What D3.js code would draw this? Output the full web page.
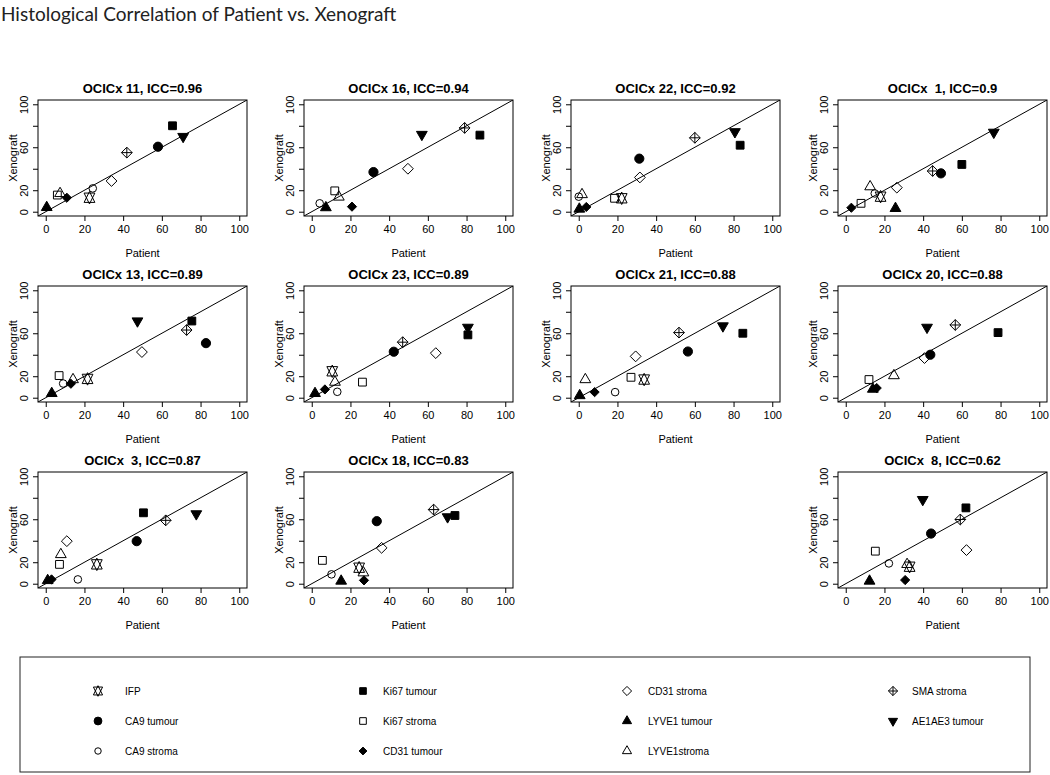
<!DOCTYPE html>
<html><head><meta charset="utf-8">
<script src="https://cdn.jsdelivr.net/npm/d3@7"></script>
<style>
body{margin:0;background:#fff;}
svg text{font-family:"Liberation Sans",Arial,sans-serif;}
</style></head>
<body><svg id="c" width="1050" height="775"></svg>
<script>
// ---- data ----
const panelNames = ["OCICx 11","OCICx 16","OCICx 22","OCICx  1","OCICx 13","OCICx 23","OCICx 21","OCICx 20","OCICx  3","OCICx 18","OCICx  8"];
const iccValues = ["0.96","0.94","0.92","0.9","0.89","0.89","0.88","0.88","0.87","0.83","0.62"];
const panelRow = [0,0,0,0,1,1,1,1,2,2,2];
const panelCol = [0,1,2,3,0,1,2,3,0,1,3];
const markerNames = ["IFP","CA9 tumour","CA9 stroma","Ki67 tumour","Ki67 stroma","CD31 tumour","CD31 stroma","LYVE1 tumour","LYVE1stroma","SMA stroma","AE1AE3 tumour"];
const markerShapes = ["sextile","circleFilled","circleOpen","squareFilled","squareOpen","diamondFilled","diamondOpen","triUpFilled","triUpOpen","diamondPlus","triDownFilled"];
// patient / xenograft values, one entry per panel (order of panelNames), null = not shown
const IFP_patient  = [22.6,null,22.2,18,21.6,10.6,33.8,null,26.4,24.5,33];
const IFP_xeno     = [13,null,12.5,14,17.5,24.6,16.9,null,18,14.9,15.8];
const CA9t_patient = [58,31.9,31.3,49.2,82.8,42.4,56.4,43.7,47,33.6,44.1];
const CA9t_xeno    = [60.5,36.9,49.4,35.7,50.8,42.8,43,40,39.6,58.2,46.7];
const CA9s_patient = [24.3,4.1,0,15,9,13.2,18.8,null,16.6,10.2,22.3];
const CA9s_xeno    = [21.7,7.8,14,17,13.2,5.5,5.2,null,4,8.7,18.9];
const Ki67t_patient= [65.5,86.9,83.4,60,75.5,80.7,84.8,78.7,50.5,74,62.1];
const Ki67t_xeno   = [80,71.3,61.9,44,71.4,58.5,60,60.6,66,63.5,70.6];
const Ki67s_patient= [6,11.9,18.5,7.9,6.9,26.2,27,12,7.1,5.5,15.3];
const Ki67s_xeno   = [15.5,19.4,12.5,7.8,20.6,14.5,19,16.9,18,21.7,30.3];
const CD31t_patient= [10.9,20.8,3.9,2.9,13,6.8,8.2,16,3,27,30.7];
const CD31t_xeno   = [13,4.7,4.4,3.7,13,7.7,5.2,9,4,3.1,3.4];
const CD31s_patient= [34,49.7,31.6,26.4,49.7,64.1,29.4,40.7,10.9,36.1,62.4];
const CD31s_xeno   = [28.6,40,31.9,22.4,42.5,41.5,38.5,36.9,39.6,33.4,31.3];
const LYVt_patient = [0.5,7.3,0.3,25.7,3.1,1.7,0.5,14,1,15.2,12.3];
const LYVt_xeno    = [4,3.8,2.5,3.1,4,4,2,8,3,2.5,2.5];
const LYVs_patient = [7.4,14,1.7,12.6,14.1,12,3.4,24.9,7.8,26.7,31.7];
const LYVs_xeno    = [17,13.7,16,23.3,16.9,14.5,16.9,20.6,27.2,10.2,18];
const SMA_patient  = [41.9,79,60,44.9,72.8,47,51.8,56.6,62,63,59.2];
const SMA_xeno     = [55,78,68.8,37.9,63,51.7,60.6,67.7,59,69,59.8];
const AE_patient   = [71,56.9,80.7,76.5,47.4,80.7,74.5,42,77.8,70.2,39.8];
const AE_xeno      = [70,71.9,74.4,73.9,71.4,65.5,66.8,65.5,65,62.2,78.3];
const xTicks = [0,20,40,60,80,100];
const yTicks = [0,20,40,60,80,100];
const yTickLabels = ["0","20","","60","","100"];
const mainTitle = "Histological Correlation of Patient vs. Xenograft";
const xLabel = "Patient", yLabel = "Xenograft";

const patientSeries = [IFP_patient,CA9t_patient,CA9s_patient,Ki67t_patient,Ki67s_patient,CD31t_patient,CD31s_patient,LYVt_patient,LYVs_patient,SMA_patient,AE_patient];
const xenoSeries = [IFP_xeno,CA9t_xeno,CA9s_xeno,Ki67t_xeno,Ki67s_xeno,CD31t_xeno,CD31s_xeno,LYVt_xeno,LYVs_xeno,SMA_xeno,AE_xeno];

// ---- symbol paths (R pch style) ----
function shapePath(type, k){
  const u = 4*k;
  const p = d3.path();
  const tri = (dir)=>{ // dir 1 = point up, -1 = point down
    const r = 1.555*u, yc = 0.778*u, xc = 1.347*u;
    p.moveTo(0, -dir*r); p.lineTo(xc, dir*yc); p.lineTo(-xc, dir*yc); p.closePath();
  };
  switch(type){
    case "circleFilled": p.arc(0,0,4.6*k,0,2*Math.PI); break;
    case "circleOpen": p.arc(0,0,3.8*k,0,2*Math.PI); break;
    case "squareFilled": case "squareOpen": { const h=3.9*k; p.rect(-h,-h,2*h,2*h); break; }
    case "diamondFilled": { const h=4.6*k; p.moveTo(0,-h);p.lineTo(h,0);p.lineTo(0,h);p.lineTo(-h,0);p.closePath(); break; }
    case "diamondOpen": case "diamondPlus": { const h=5.4*k; p.moveTo(0,-h);p.lineTo(h,0);p.lineTo(0,h);p.lineTo(-h,0);p.closePath();
      if(type==="diamondPlus"){ p.moveTo(0,-h);p.lineTo(0,h);p.moveTo(-h,0);p.lineTo(h,0);} break; }
    case "triUpFilled": case "triUpOpen": tri(1); break;
    case "triDownFilled": tri(-1); break;
    case "sextile": {
      const r=1.555*u, yc=0.5*(0.778*u+r), xc=1.347*u;
      p.moveTo(0,-r);p.lineTo(xc,yc);p.lineTo(-xc,yc);p.closePath();
      p.moveTo(0,r);p.lineTo(xc,-yc);p.lineTo(-xc,-yc);p.closePath(); break; }
  }
  return p.toString();
}
function isFilled(t){ return /Filled/.test(t); }

const svg = d3.select("#c");
svg.append("text").attr("x",1).attr("y",21).text(mainTitle)
  .style("font-family","Lato,'Open Sans',sans-serif").style("font-size","19px").attr("fill","#222");

const boxW = 209, boxH = 116;
const colLeft = [38,304,571,838];
const rowTop = [100,286,472];

panelNames.forEach((name,i)=>{
  const left = colLeft[panelCol[i]], top = rowTop[panelRow[i]];
  const x = d3.scaleLinear().domain([-4,104]).range([left,left+boxW]);
  const y = d3.scaleLinear().domain([-4,104]).range([top+boxH,top]);
  const g = svg.append("g");
  const clipId = "clip"+i;
  g.append("clipPath").attr("id",clipId).append("rect").attr("x",left).attr("y",top).attr("width",boxW).attr("height",boxH);
  // identity line
  g.append("line").attr("clip-path",`url(#${clipId})`)
    .attr("x1",x(-4)).attr("y1",y(-4)).attr("x2",x(104)).attr("y2",y(104))
    .attr("stroke","#000").attr("stroke-width",1);
  // points
  markerNames.forEach((m,j)=>{
    const px = patientSeries[j][i], py = xenoSeries[j][i];
    if(px==null||py==null) return;
    const t = markerShapes[j];
    g.append("path").attr("d",shapePath(t,1))
      .attr("transform",`translate(${x(px)},${y(py)})`)
      .attr("fill",isFilled(t)?"#000":"none").attr("stroke","#000").attr("stroke-width",1);
  });
  // box
  g.append("rect").attr("x",left).attr("y",top).attr("width",boxW).attr("height",boxH)
    .attr("fill","none").attr("stroke","#000").attr("stroke-width",1);
  // x axis
  const ax = g.append("g").attr("transform",`translate(0,${top+boxH})`)
    .call(d3.axisBottom(x).tickValues(xTicks).tickSize(5).tickSizeOuter(0).tickPadding(4));
  ax.select(".domain").remove();
  ax.selectAll("text").style("font-size","11px").style("font-family","'Liberation Sans',Arial,sans-serif").attr("fill","#000");
  // y axis
  const ay = g.append("g").attr("transform",`translate(${left},0)`)
    .call(d3.axisLeft(y).tickValues(yTicks).tickSize(5).tickSizeOuter(0).tickFormat((d,k)=>yTickLabels[k]));
  ay.select(".domain").remove();
  ay.selectAll("text").attr("x",null).attr("dy",null).attr("text-anchor","middle")
    .attr("transform","translate(-10,0) rotate(-90)").style("font-size","11px")
    .style("font-family","'Liberation Sans',Arial,sans-serif").attr("fill","#000");
  // labels
  g.append("text").attr("x",left+boxW/2).attr("y",top+boxH+41).attr("text-anchor","middle")
    .style("font-size","11px").text(xLabel);
  g.append("text").attr("transform",`translate(${left-21},${top+boxH/2}) rotate(-90)`).attr("text-anchor","middle")
    .style("font-size","11px").text(yLabel);
  g.append("text").attr("x",left+boxW/2).attr("y",top-7).attr("text-anchor","middle")
    .style("font-size","13px").style("font-weight","bold").style("white-space","pre").attr("xml:space","preserve")
    .text(`${name}, ICC=${iccValues[i]}`);
});

// legend
const leg = svg.append("g");
leg.append("rect").attr("x",20).attr("y",657).attr("width",1010).attr("height",115)
  .attr("fill","none").attr("stroke","#222").attr("stroke-width",1);
const legSymX = [98,363,627,893], legTextX = [125,383,648,912], legRowY = [691,721,751];
markerNames.forEach((m,j)=>{
  const c = Math.floor(j/3), r = j%3;
  const t = markerShapes[j];
  leg.append("path").attr("d",shapePath(t,0.85)).attr("transform",`translate(${legSymX[c]},${legRowY[r]})`)
    .attr("fill",isFilled(t)?"#000":"none").attr("stroke","#000").attr("stroke-width",1);
  leg.append("text").attr("x",legTextX[c]).attr("y",legRowY[r]+3.5).style("font-size","10px").text(m);
});
</script></body></html>
